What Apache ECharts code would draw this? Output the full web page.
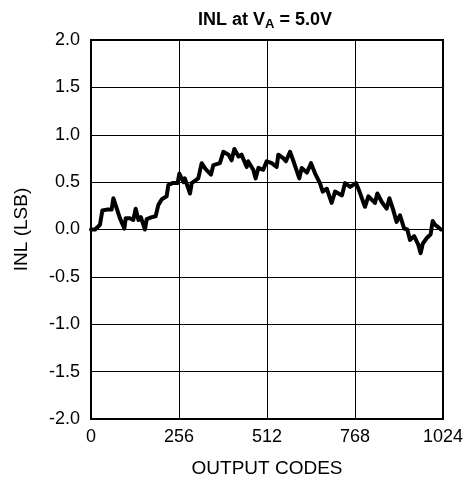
<!DOCTYPE html>
<html>
<head>
<meta charset="utf-8">
<script src="https://cdn.jsdelivr.net/npm/echarts@6/dist/echarts.min.js"></script>
<style>
  html, body { margin: 0; padding: 0; background: #fff; }
  #chart { width: 472px; height: 487px; }
</style>
</head>
<body>
<div id="chart"></div>
<script>
// output codes and INL (LSB)
const codes = [0, 12, 26, 33, 46, 60, 65, 75, 84, 89, 97, 101, 113, 123, 130, 138, 145, 157, 162, 177,
  188, 196, 206, 220, 225, 237, 252, 257, 269, 273, 288, 293, 312, 322, 333, 349, 356, 375, 385, 400,
  409, 417, 429, 438, 453, 457, 472, 479, 487, 501, 511, 526, 540, 545, 560, 567, 579, 589, 606, 613,
  628, 640, 652, 666, 674, 686, 700, 710, 730, 739, 754, 771, 781, 797, 807, 826, 833, 846, 860, 868,
  878, 889, 899, 911, 920, 928, 940, 952, 959, 965, 977, 988, 994, 1001, 1008, 1018]
const inl = [0.0, 0.0, 0.05, 0.2, 0.21, 0.21, 0.33, 0.22, 0.12, 0.1, 0.01, 0.12, 0.12, 0.1, 0.22, 0.1, 0.13, 0.0, 0.11, 0.13,
  0.14, 0.26, 0.32, 0.35, 0.47, 0.49, 0.49, 0.59, 0.5, 0.54, 0.38, 0.49, 0.54, 0.7, 0.64, 0.58, 0.68, 0.7, 0.82, 0.79,
  0.73, 0.85, 0.77, 0.79, 0.66, 0.72, 0.63, 0.54, 0.65, 0.63, 0.72, 0.7, 0.66, 0.79, 0.75, 0.72, 0.82, 0.72, 0.54, 0.65,
  0.6, 0.7, 0.59, 0.49, 0.4, 0.43, 0.28, 0.4, 0.36, 0.49, 0.45, 0.49, 0.4, 0.24, 0.35, 0.28, 0.38, 0.29, 0.22, 0.33,
  0.22, 0.08, 0.15, 0.01, 0.0, -0.11, -0.07, -0.16, -0.25, -0.15, -0.09, -0.05, 0.09, 0.05, 0.03, 0.0]
const xTicks = [0, 256, 512, 768, 1024]
const yMin = -2
const yMax = 2

const chart = echarts.init(document.getElementById('chart'))
const font = 'Liberation Sans, Arial, sans-serif'
chart.setOption({
  animation: false,
  title: {
    text: 'INL at V{sub|A} = 5.0V',
    left: 193,
    top: 4,
    textStyle: {
      fontFamily: font,
      fontSize: 18,
      fontWeight: 'bold',
      color: '#000',
      rich: {
        sub: { fontFamily: font, fontSize: 13, fontWeight: 'bold', color: '#000', verticalAlign: 'bottom', padding: [9, 0, 0, 0] }
      }
    }
  },
  grid: {
    left: 91,
    right: 29,
    top: 40,
    bottom: 68,
    show: true,
    borderColor: '#000',
    borderWidth: 2
  },
  xAxis: {
    type: 'value',
    min: xTicks[0],
    max: xTicks[xTicks.length - 1],
    interval: 256,
    name: 'OUTPUT CODES',
    nameLocation: 'middle',
    nameGap: 40,
    nameTextStyle: { fontFamily: font, fontSize: 19, color: '#000' },
    axisLine: { show: false },
    axisTick: { show: false },
    axisLabel: { fontFamily: font, fontSize: 18, color: '#000', margin: 9, formatter: v => String(v) },
    splitLine: { lineStyle: { color: '#000', width: 1 } }
  },
  yAxis: {
    type: 'value',
    min: yMin,
    max: yMax,
    interval: 0.5,
    name: 'INL (LSB)',
    nameLocation: 'middle',
    nameGap: 60,
    nameTextStyle: { fontFamily: font, fontSize: 19, color: '#000' },
    axisLine: { show: false },
    axisTick: { show: false },
    axisLabel: {
      fontFamily: font, fontSize: 18, color: '#000', margin: 11,
      formatter: v => v.toFixed(1)
    },
    splitLine: { lineStyle: { color: '#000', width: 1 } }
  },
  series: [{
    type: 'line',
    data: codes.map((c, i) => [c, inl[i]]),
    symbol: 'none',
    lineStyle: { color: '#000', width: 4, join: 'round', cap: 'round' }
  }]
})
</script>
</body>
</html>
